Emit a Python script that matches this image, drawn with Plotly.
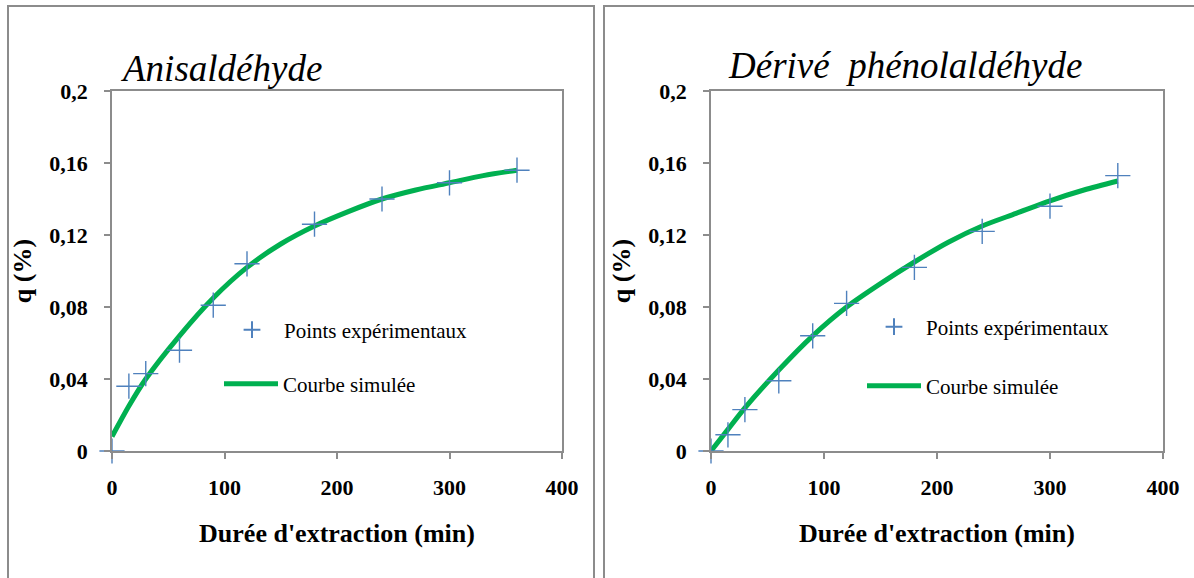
import plotly.graph_objects as go

# ---- data ----
t_exp = [0, 15, 30, 60, 90, 120, 180, 240, 300, 360]
q_exp_anis = [0, 0.036, 0.043, 0.056, 0.081, 0.104, 0.126, 0.140, 0.149, 0.156]
q_exp_phen = [0, 0.009, 0.023, 0.039, 0.064, 0.082, 0.102, 0.122, 0.136, 0.153]

t_sim = [0, 15, 30, 60, 90, 120, 150, 180, 210, 240, 270, 300, 330, 360]
q_sim_anis = [0.008, 0.025, 0.040, 0.064, 0.085, 0.102, 0.115, 0.125, 0.133,
              0.140, 0.145, 0.149, 0.153, 0.156]
q_sim_phen = [0, 0.012, 0.024, 0.045, 0.064, 0.080, 0.093, 0.105, 0.116,
              0.125, 0.132, 0.139, 0.145, 0.150]

x_tick_vals = [0, 100, 200, 300, 400]
x_tick_text = ["0", "100", "200", "300", "400"]
y_tick_vals = [0, 0.04, 0.08, 0.12, 0.16, 0.2]
y_tick_text = ["0", "0,04", "0,08", "0,12", "0,16", "0,2"]

panel_titles = ["Anisaldéhyde", "Dérivé\u00a0 phénolaldéhyde"]
x_title = "Durée d'extraction (min)"
y_title = "q (%)"
name_exp = "Points expérimentaux"
name_sim = "Courbe simulée"

# ---- styling ----
W, H = 1194, 578
FONT = "Liberation Serif, Times New Roman, serif"
GREEN = "#00b050"
BLUE = "#4f81bd"
GREY = "#8c8c8c"
ITEMW = 54


def px_x(p):
    return p / W


def px_y(p):
    return (H - p) / H


fig = go.Figure()

panels = [
    dict(qs=q_sim_anis, qe=q_exp_anis, xa="x", ya="y",
         leg_exp="legend", leg_sim="legend2"),
    dict(qs=q_sim_phen, qe=q_exp_phen, xa="x2", ya="y2",
         leg_exp="legend3", leg_sim="legend4"),
]

for p in panels:
    fig.add_trace(go.Scatter(
        x=t_sim, y=p["qs"], mode="lines", name=name_sim,
        line=dict(color=GREEN, width=5, shape="spline", smoothing=0.8),
        xaxis=p["xa"], yaxis=p["ya"], legend=p["leg_sim"],
    ))
    fig.add_trace(go.Scatter(
        x=t_exp, y=p["qe"], mode="markers", name=name_exp,
        marker=dict(symbol="cross-thin", size=18, color=BLUE,
                    line=dict(color=BLUE, width=1.4)),
        xaxis=p["xa"], yaxis=p["ya"], legend=p["leg_exp"],
        cliponaxis=False,
    ))

tickfont = dict(family=FONT, size=22, color="black", weight="bold")
titlefont = dict(family=FONT, size=26, color="black", weight="bold")

xaxis_common = dict(
    range=[0, 400], tickvals=x_tick_vals, ticktext=x_tick_text,
    showgrid=False, zeroline=False, showline=True, linecolor=GREY,
    linewidth=1.5, mirror=True, ticks="outside", ticklen=6, tickcolor=GREY,
    tickwidth=1.5, tickfont=tickfont, ticklabelstandoff=10, automargin=False,
    title=dict(text=x_title, font=titlefont, standoff=25),
)
yaxis_common = dict(
    range=[0, 0.2], tickvals=y_tick_vals, ticktext=y_tick_text,
    showgrid=False, zeroline=False, showline=True, linecolor=GREY,
    linewidth=1.5, mirror=True, ticks="outside", ticklen=6, tickcolor=GREY,
    tickwidth=1.5, tickfont=tickfont, ticklabelstandoff=12, automargin=False,
    title=dict(text=y_title, font=titlefont, standoff=10),
    domain=[px_y(451), px_y(91)],
)

legfont = dict(family=FONT, size=21, color="black")


def leg(x_text, y_center):
    return dict(x=px_x(x_text - (ITEMW + 10) - 2), y=px_y(y_center),
                xanchor="left", yanchor="middle", xref="paper", yref="paper",
                font=legfont, bgcolor="rgba(0,0,0,0)", itemsizing="constant",
                itemwidth=ITEMW)


fig.update_layout(
    template="none",
    width=W, height=H, autosize=False,
    margin=dict(l=0, r=0, t=0, b=0, pad=0, autoexpand=False),
    paper_bgcolor="white", plot_bgcolor="white",
    showlegend=True,
    xaxis=dict(xaxis_common, domain=[px_x(112), px_x(562)], anchor="y"),
    yaxis=dict(yaxis_common, anchor="x"),
    xaxis2=dict(xaxis_common, domain=[px_x(711), px_x(1163)], anchor="y2"),
    yaxis2=dict(yaxis_common, anchor="x2"),
    legend=leg(286, 330),
    legend2=leg(285, 384),
    legend3=leg(928, 327),
    legend4=leg(928, 386),
    shapes=[
        dict(type="rect", xref="paper", yref="paper",
             x0=px_x(8), x1=px_x(594), y0=-0.1, y1=px_y(6),
             line=dict(color=GREY, width=2), layer="below"),
        dict(type="rect", xref="paper", yref="paper",
             x0=px_x(604), x1=1.05, y0=-0.1, y1=px_y(6),
             line=dict(color=GREY, width=2), layer="below"),
    ],
    annotations=[
        dict(text="<i>%s</i>" % panel_titles[0], x=px_x(221), y=px_y(68),
             xref="paper", yref="paper", showarrow=False,
             xanchor="center", yanchor="middle",
             font=dict(family=FONT, size=37, color="black")),
        dict(text="<i>%s</i>" % panel_titles[1], x=px_x(905), y=px_y(66),
             xref="paper", yref="paper", showarrow=False,
             xanchor="center", yanchor="middle",
             font=dict(family=FONT, size=37, color="black")),
    ],
)

fig.write_html("out.html")
